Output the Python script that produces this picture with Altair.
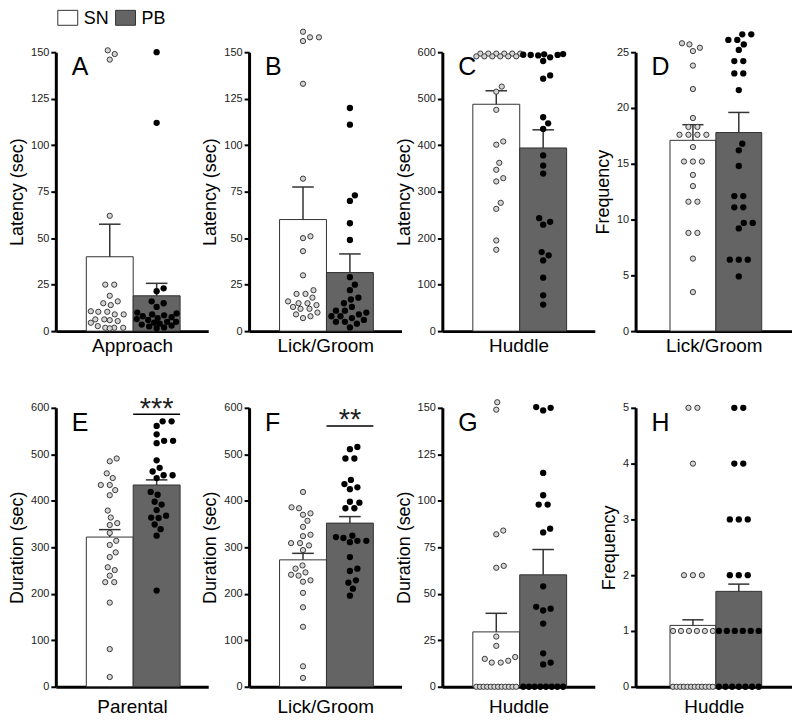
import altair as alt
import numpy as np
import pandas as pd

FONT = "Liberation Sans"

# ---------------- data ----------------
panels = ["A", "B", "C", "D", "E", "F", "G", "H"]
behaviors = ["Approach", "Lick/Groom", "Huddle", "Lick/Groom",
             "Parental", "Lick/Groom", "Huddle", "Huddle"]
y_titles = ["Latency (sec)", "Latency (sec)", "Latency (sec)", "Frequency",
            "Duration (sec)", "Duration (sec)", "Duration (sec)", "Frequency"]
y_max = [150, 150, 600, 25, 600, 600, 150, 5]
y_step = [25, 25, 100, 5, 100, 100, 25, 1]

groups = ["SN", "PB"]
bar_colors = ["#ffffff", "#646464"]

sn_mean = [40, 60, 488, 17.1, 322, 273, 29.5, 1.1]
sn_sem = [17.5, 17.5, 29, 1.4, 16, 14, 10, 0.1]
pb_mean = [19, 31.5, 394, 17.8, 434, 352, 60.2, 1.71]
pb_sem = [6.7, 10, 39, 1.8, 11, 14, 13.6, 0.13]

sig_panels = ["E", "F"]
sig_labels = ["***", "**"]
sig_line = [586, 561]
sig_text = [597, 574]

sn_A = [151, 149, 146, 62, 25, 25, 19, 15, 14, 16, 10.4, 9, 9, 10.4, 10.7,
        4.5, 6.3, 5.4, 6.3, 5.9, 1.8, 2.7, 1.8, 1.8, 1.5]
pb_A = [150, 112, 23, 21.5, 16, 15, 13, 10, 9.5, 9, 8.5, 8, 7.5, 7, 6.5, 6,
        5, 5, 4.5, 4, 3.5, 3, 2.5, 2, 1.5]
sn_B = [161, 158, 158, 156, 133, 82, 51, 50, 43, 30, 22, 20, 20, 18, 16, 15,
        15, 14, 13, 12, 12, 10, 9, 8, 7]
pb_B = [120, 111, 73, 70, 58, 49, 29, 25, 22, 18, 17, 15, 13, 11, 11, 10, 9,
        8, 8, 7, 6, 5, 5, 4, 2]
sn_C = [597, 597, 597, 597, 597, 597, 591, 591, 591, 591, 591, 591,
        526, 515, 476, 408, 401, 362, 347, 329, 322, 276, 263, 195, 175]
pb_C = [594, 596, 593, 594.5, 595.5, 589, 594.2, 581, 550, 543, 460, 447, 435,
        378, 356, 339, 243, 235, 229, 170, 163, 152, 115, 77, 57]
sn_D = [25.7, 25.4, 25.8, 25.1, 23.8, 21.7, 19.1, 18.3, 18.3, 17.6, 17.6,
        17.6, 17.6, 16.5, 15.2, 15.2, 15.2, 14, 13, 11.6, 11.6, 8.8, 8.8, 6.5, 3.5]
pb_D = [26.6, 26.6, 26.1, 26.1, 25.7, 25.2, 24.2, 24.2, 23.1, 23.1, 21.6,
        16.8, 16.2, 14.8, 12.1, 12.1, 11.1, 11.1, 9.7, 9.7, 9.2, 6.4, 6.4, 6.4, 4.9]
sn_E = [491, 485, 459, 449, 434, 434, 423, 412, 379, 364, 352, 348, 331, 314,
        305, 289, 279, 257, 251, 239, 225, 225, 181, 81, 21]
pb_E = [571, 571, 561, 543, 529, 529, 524, 487, 471, 463, 455, 455, 449, 419,
        413, 398, 392, 380, 368, 364, 363, 349, 339, 325, 207]
sn_F = [419, 386, 384, 373, 370, 357, 344, 327, 324, 309, 309, 304, 294, 261,
        254, 246, 241, 239, 229, 226, 202, 171, 129, 44, 19]
pb_F = [516, 511, 491, 491, 445, 436, 429, 425, 398, 396, 384, 384, 325, 322,
        320, 314, 314, 311, 279, 254, 249, 229, 224, 211, 196]
sn_G = [153, 149, 84, 82, 65, 64, 27, 22, 16, 15, 14, 13, 13,
        0, 0, 0, 0, 0, 0, 0, 0, 0, 0, 0, 0]
pb_G = [150.4, 150, 148.6, 115, 103, 98, 98, 85, 83, 54, 43, 42, 41, 34, 18,
        13, 12, 0, 0, 0, 0, 0, 0, 0, 0]
sn_H = [5, 5, 4, 2, 2, 2, 1, 1, 1, 1, 1, 1,
        0, 0, 0, 0, 0, 0, 0, 0, 0, 0, 0, 0]
pb_H = [5, 5, 4, 4, 3, 3, 3, 2, 2, 2, 1, 1, 1, 1, 1, 1,
        0, 0, 0, 0, 0, 0, 0]

sn_points = [sn_A, sn_B, sn_C, sn_D, sn_E, sn_F, sn_G, sn_H]
pb_points = [pb_A, pb_B, pb_C, pb_D, pb_E, pb_F, pb_G, pb_H]

PLOT_H = 280


def swarm(vals, ymax, D=7.5, lim=20.0):
    """Simple beeswarm layout: returns horizontal offsets in pixels."""
    keys = {}
    for i, v in enumerate(vals):
        keys.setdefault(v, []).append(i)
    xo = [0.0] * len(vals)
    placed = []
    steps = [0.0]
    for k in range(1, 61):
        steps += [k * 0.5, -k * 0.5]
    for v in sorted(keys):
        idx = keys[v]
        n = len(idx)
        sp = 9.0 if n == 1 else min(9.0, 2 * lim / (n - 1))
        base = [(k - (n - 1) / 2) * sp for k in range(n)]
        bound = max(lim, max(abs(b) for b in base) + 5)
        y = v / ymax * PLOT_H
        best_s, best_d = 0.0, -1.0
        for s in steps:
            xs = [b + s for b in base]
            if max(abs(x) for x in xs) > bound:
                continue
            md = min([np.hypot(x - px, y - py) for x in xs for px, py in placed] or [1e9])
            if md >= D:
                best_s = s
                break
            if md > best_d + 0.3:
                best_s, best_d = s, md
        for k, i in enumerate(idx):
            xo[i] = base[k] + best_s
            placed.append((xo[i], y))
    return xo


def make_panel(i):
    p = panels[i]
    last = (i % 4 == 3)
    width = 157 if last else 153
    xdom = [-1.25, 2.16] if last else [-1.15, 2.1]
    unit = width / (xdom[1] - xdom[0])
    xs = alt.Scale(domain=xdom, nice=False, zero=False)
    ys = alt.Scale(domain=[0, y_max[i]], nice=False, zero=False)
    xt = behaviors[i]
    yt = y_titles[i]
    xpad = 5 if i < 4 else 11

    bar_df = pd.DataFrame({"group": groups, "idx": [0, 1],
                           "mean": [sn_mean[i], pb_mean[i]],
                           "sem": [sn_sem[i], pb_sem[i]]})
    base = alt.Chart(bar_df).transform_calculate(
        x0="datum.idx - 0.5", x1="datum.idx + 0.5", zero="0",
        top="datum.mean + datum.sem",
        capl="datum.idx - 0.23", capr="datum.idx + 0.23")

    fill_scale = alt.Scale(domain=groups, range=bar_colors)

    bars = base.mark_rect(stroke="#333333", strokeWidth=1).encode(
        x=alt.X("x0:Q", scale=xs, title=xt,
                axis=alt.Axis(labels=False, ticks=False, grid=False, titlePadding=xpad)),
        x2="x1:Q",
        y=alt.Y("mean:Q", scale=ys, title=yt,
                axis=alt.Axis(values=list(range(0, y_max[i] + 1, y_step[i])))),
        y2="zero:Q",
        fill=alt.Fill("group:N", scale=fill_scale, legend=None),
    )
    err = base.mark_rule(color="#333333", strokeWidth=1.5).encode(
        x=alt.X("idx:Q", scale=xs, title=xt),
        y=alt.Y("mean:Q", scale=ys, title=yt),
        y2="top:Q",
    )
    cap = base.mark_rule(color="#333333", strokeWidth=1.5).encode(
        x=alt.X("capl:Q", scale=xs, title=xt),
        x2="capr:Q",
        y=alt.Y("top:Q", scale=ys, title=yt),
    )

    rows = []
    for gi, (g, vals) in enumerate(zip(groups, [sn_points[i], pb_points[i]])):
        xo = swarm(vals, y_max[i])
        for v, o in zip(vals, xo):
            rows.append({"group": g, "value": v, "xpos": gi + o / unit})
    pts_df = pd.DataFrame(rows)
    pts = alt.Chart(pts_df)
    sn_pts = pts.transform_filter(alt.datum.group == "SN").mark_circle(
        size=28, fill="#d4d4d4", stroke="#3a3a3a", strokeWidth=1, opacity=1
    ).encode(x=alt.X("xpos:Q", scale=xs, title=xt),
             y=alt.Y("value:Q", scale=ys, title=yt))
    pb_pts = pts.transform_filter(alt.datum.group == "PB").mark_circle(
        size=40, color="#000000", opacity=1
    ).encode(x=alt.X("xpos:Q", scale=xs, title=xt),
             y=alt.Y("value:Q", scale=ys, title=yt))

    letter = alt.Chart(pd.DataFrame({"t": [p]})).mark_text(
        font=FONT, fontSize=25, align="left", baseline="top", color="black"
    ).encode(text="t:N", x=alt.value(16), y=alt.value(3))

    layers = [bars, err, cap, sn_pts, pb_pts, letter]

    if p in sig_panels:
        k = sig_panels.index(p)
        sdf = pd.DataFrame({"label": [sig_labels[k]], "yl": [sig_line[k]],
                            "yt": [sig_text[k]], "idx": [1]})
        sb = alt.Chart(sdf).transform_calculate(xl="datum.idx - 0.5", xr="datum.idx + 0.5")
        layers.append(sb.mark_rule(color="black", strokeWidth=1.5).encode(
            x=alt.X("xl:Q", scale=xs, title=xt), x2="xr:Q",
            y=alt.Y("yl:Q", scale=ys, title=yt)))
        layers.append(sb.mark_text(font=FONT, fontSize=29, baseline="middle",
                                   align="center", color="#222222").encode(
            x=alt.X("idx:Q", scale=xs, title=xt),
            y=alt.Y("yt:Q", scale=ys, title=yt), text="label:N"))

    if i == 0:
        for k, g in enumerate(groups):
            ldf = pd.DataFrame({"group": [g]})
            layers.append(alt.Chart(ldf).mark_rect(stroke="#333333", strokeWidth=1).encode(
                x=alt.value(2 + 58 * k), x2=alt.value(22 + 58 * k),
                y=alt.value(-42), y2=alt.value(-27),
                fill=alt.Fill("group:N", scale=fill_scale, legend=None)))
            layers.append(alt.Chart(ldf).mark_text(
                font=FONT, fontSize=18, align="left", baseline="top", color="black"
            ).encode(x=alt.value(28 + 58 * k), y=alt.value(-42), text="group:N"))

    return alt.layer(*layers).properties(width=width, height=PLOT_H)


chart = alt.concat(*[make_panel(i) for i in range(8)], columns=4,
                   spacing={"row": 77, "column": 41}, bounds="flush").properties(
    padding={"left": 0, "top": 0, "right": 0, "bottom": 0},
    background="white",
).configure_view(stroke=None).configure_axis(
    domainColor="black", domainWidth=3, tickColor="black", tickWidth=2,
    tickSize=5, labelFontSize=11, labelColor="#222222", labelFont=FONT,
    titleFont=FONT, titleFontSize=18, titleFontWeight="normal",
    titleColor="black", grid=False, zindex=1,
).configure_axisY(titlePadding=4, labelPadding=2).configure_axisX(
    titleFontSize=19)

chart.save("out.html", embed_options={"renderer": "svg", "actions": False})
